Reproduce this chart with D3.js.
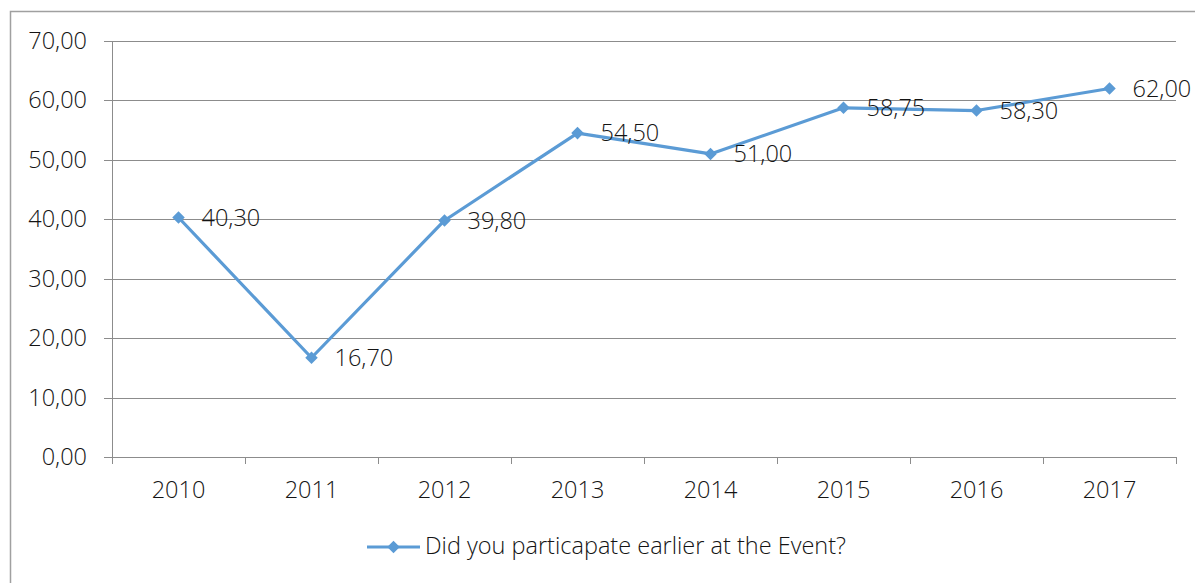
<!DOCTYPE html>
<html>
<head>
<meta charset="utf-8">
<script src="https://cdn.jsdelivr.net/npm/d3@7"></script>
<style>
  html, body { margin: 0; padding: 0; background: #fff; }
  svg { display: block; font-family: "Open Sans", "Noto Sans", sans-serif; font-weight: 300; }
</style>
</head>
<body>
<svg id="chart" width="1195" height="583"></svg>
<script>
// Chart data
const years = ["2010", "2011", "2012", "2013", "2014", "2015", "2016", "2017"];
const values = [40.30, 16.70, 39.80, 54.50, 51.00, 58.75, 58.30, 62.00];
const yTicks = [0, 10, 20, 30, 40, 50, 60, 70];
const seriesName = "Did you particapate earlier at the Event?";

const svg = d3.select("#chart");
const W = 1195, H = 583;
const plot = { left: 112, right: 1176, top: 41, bottom: 457 };
const lineColor = "#5B9BD5";
const gridColor = "#8c8c8c";
const textColor = "#141414";
const fontSize = "23.5px";

// Outer chart frame
svg.append("rect")
  .attr("x", 10.5).attr("y", 11.5)
  .attr("width", W).attr("height", H)
  .attr("fill", "#fff").attr("stroke", "#a0a0a0").attr("stroke-width", 1.5);

const x = d3.scaleBand().domain(years).range([plot.left, plot.right]).padding(0);
const y = d3.scaleLinear().domain([0, 70]).range([plot.bottom, plot.top]);

const fmt = v => d3.format(".2f")(v).replace(".", ",");

const styleText = sel => sel
  .attr("fill", textColor).style("font-size", fontSize)
  .style("font-family", "'Open Sans', sans-serif").style("font-weight", 300);

// Horizontal gridlines with left tick stubs
const yAxis = d3.axisLeft(y).tickValues(yTicks).tickFormat(fmt)
  .tickSize(-(plot.right - plot.left)).tickPadding(25);
const gy = svg.append("g").attr("transform", `translate(${plot.left},0)`).call(yAxis);
gy.select(".domain").remove();
gy.selectAll(".tick line")
  .attr("x1", -8)
  .attr("stroke", gridColor).attr("stroke-width", 1)
  .attr("shape-rendering", "crispEdges");
gy.selectAll(".tick text").call(styleText);

// Vertical axis line
svg.append("line")
  .attr("x1", plot.left).attr("x2", plot.left)
  .attr("y1", plot.top).attr("y2", plot.bottom)
  .attr("stroke", gridColor).attr("shape-rendering", "crispEdges");

// Category axis: ticks at band boundaries
const gx = svg.append("g").attr("transform", `translate(0,${plot.bottom})`)
  .call(d3.axisBottom(x).tickSize(0).tickPadding(24));
gx.select(".domain").attr("stroke", gridColor).attr("shape-rendering", "crispEdges");
gx.selectAll(".tick text").call(styleText);
const edges = years.map(d => x(d)).concat([x(years[years.length - 1]) + x.bandwidth()]);
gx.selectAll(".edge").data(edges).enter().append("line")
  .attr("x1", d => d).attr("x2", d => d)
  .attr("y1", 0).attr("y2", 7)
  .attr("stroke", gridColor).attr("shape-rendering", "crispEdges");

// Series line
const pts = years.map((yr, i) => ({ yr, v: values[i] }));
const cx = d => x(d.yr) + x.bandwidth() / 2;
svg.append("path").datum(pts)
  .attr("fill", "none").attr("stroke", lineColor).attr("stroke-width", 3.2)
  .attr("stroke-linejoin", "round")
  .attr("d", d3.line().x(cx).y(d => y(d.v)));

const diamond = d3.symbol().type(d3.symbolDiamond2).size(100);
svg.selectAll(".marker").data(pts).enter().append("path")
  .attr("transform", d => `translate(${cx(d)},${y(d.v)})`)
  .attr("d", diamond).attr("fill", lineColor);

// Value labels
svg.selectAll(".vlabel").data(pts).enter().append("text")
  .attr("x", d => cx(d) + 23).attr("y", d => y(d.v) + 2)
  .attr("dominant-baseline", "middle")
  .call(styleText)
  .text(d => fmt(d.v));

// Legend
const lg = svg.append("g").attr("transform", "translate(367,547)");
lg.append("line").attr("x1", 0).attr("x2", 53).attr("y1", 0).attr("y2", 0)
  .attr("stroke", lineColor).attr("stroke-width", 3.2);
lg.append("path").attr("transform", "translate(26.5,0)").attr("d", diamond).attr("fill", lineColor);
lg.append("text").attr("x", 58).attr("y", 1).attr("dominant-baseline", "middle")
  .call(styleText).text(seriesName);
</script>
</body>
</html>
